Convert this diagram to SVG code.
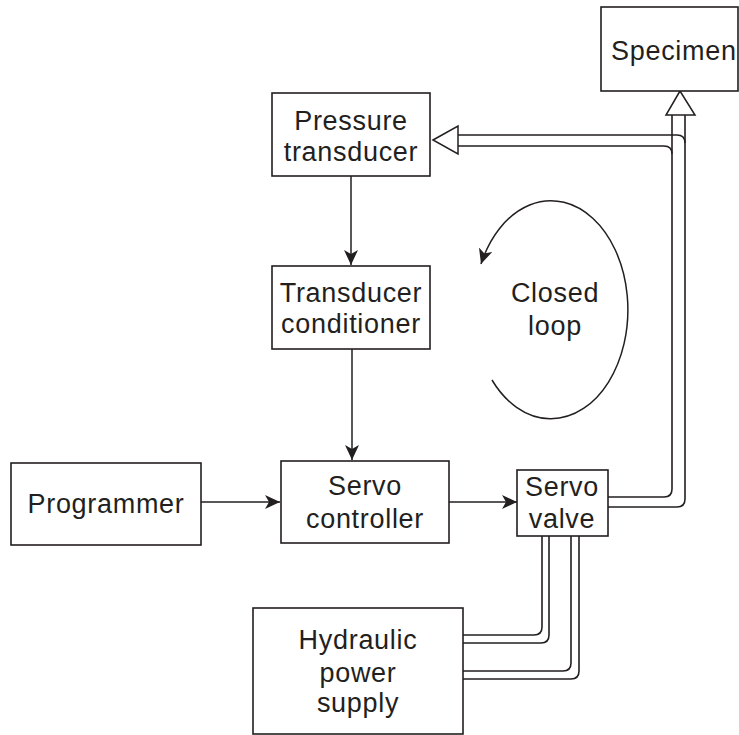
<svg xmlns="http://www.w3.org/2000/svg" width="739" height="735" viewBox="0 0 739 735">
<defs>
<style>
.box{fill:#fff;stroke:#231f20;stroke-width:1.6}
.t{font-family:"Liberation Sans",Arial,Helvetica,sans-serif;font-size:27px;letter-spacing:0.7px;fill:#231f20;text-anchor:middle}
.ln{fill:none;stroke:#231f20;stroke-width:1.5}
.pipe{fill:none;stroke:#231f20;stroke-width:1.6}
.hollow{fill:#fff;stroke:#231f20;stroke-width:1.5}
</style>
<marker id="ah" markerUnits="userSpaceOnUse" markerWidth="16" markerHeight="14" refX="15" refY="7" orient="auto">
<path d="M0,0 L15,7 L0,14 L4,7 Z" fill="#231f20"/>
</marker>
</defs>
<rect width="739" height="735" fill="#fff"/>

<g id="connectors">
<line class="ln" x1="351" y1="176" x2="351" y2="265" marker-end="url(#ah)"/>
<line class="ln" x1="352" y1="349" x2="352" y2="460" marker-end="url(#ah)"/>
<line class="ln" x1="201" y1="502" x2="280" y2="502" marker-end="url(#ah)"/>
<line class="ln" x1="449" y1="502" x2="517" y2="502" marker-end="url(#ah)"/>
<!-- closed loop arc -->
<path class="ln" d="M492,380 A77,109 0 1 0 481,264" marker-end="url(#ah)"/>
<!-- tube from servo valve to specimen -->
<path class="pipe" d="M608,497 H664 Q672,497 672,489 V115"/>
<path class="pipe" d="M608,507 H677 Q685,507 685,499 V115"/>
<!-- branch to pressure transducer -->
<path class="pipe" d="M458,135 H677 Q685,135 685,143"/>
<path class="pipe" d="M458,146 H664 Q672,146 672,154"/>
<polygon class="hollow" points="433,140 458,126 458,154"/>
<polygon class="hollow" points="680,91 666,115 695,115"/>
<!-- hydraulic supply lines -->
<path class="pipe" d="M542,536 V627 Q542,635 534,635 H463"/>
<path class="pipe" d="M549,536 V635 Q549,643 541,643 H463"/>
<path class="pipe" d="M571,536 V663 Q571,671 563,671 H463"/>
<path class="pipe" d="M579,536 V671 Q579,679 571,679 H463"/>
</g>

<g id="specimen">
<rect class="box" x="601" y="7" width="137" height="84"/>
<text class="t" x="611" y="60" style="text-anchor:start">Specimen</text>
</g>

<g id="pressure-transducer">
<rect class="box" x="272" y="93" width="158" height="83"/>
<text class="t" x="351" y="130">Pressure</text>
<text class="t" x="351" y="161">transducer</text>
</g>

<g id="transducer-conditioner">
<rect class="box" x="272" y="266" width="158" height="83"/>
<text class="t" x="351" y="302">Transducer</text>
<text class="t" x="351" y="333">conditioner</text>
</g>

<g id="programmer">
<rect class="box" x="11" y="463" width="190" height="82"/>
<text class="t" x="106" y="513">Programmer</text>
</g>

<g id="servo-controller">
<rect class="box" x="281" y="461" width="168" height="82"/>
<text class="t" x="365" y="495">Servo</text>
<text class="t" x="365" y="528">controller</text>
</g>

<g id="servo-valve">
<rect class="box" x="517" y="470" width="91" height="66"/>
<text class="t" x="562" y="496">Servo</text>
<text class="t" x="562" y="528">valve</text>
</g>

<g id="hydraulic-power-supply">
<rect class="box" x="253" y="608" width="210" height="126"/>
<text class="t" x="358" y="649">Hydraulic</text>
<text class="t" x="358" y="682">power</text>
<text class="t" x="358" y="712">supply</text>
</g>

<g id="closed-loop-label">
<text class="t" x="555" y="302">Closed</text>
<text class="t" x="555" y="335">loop</text>
</g>
</svg>
